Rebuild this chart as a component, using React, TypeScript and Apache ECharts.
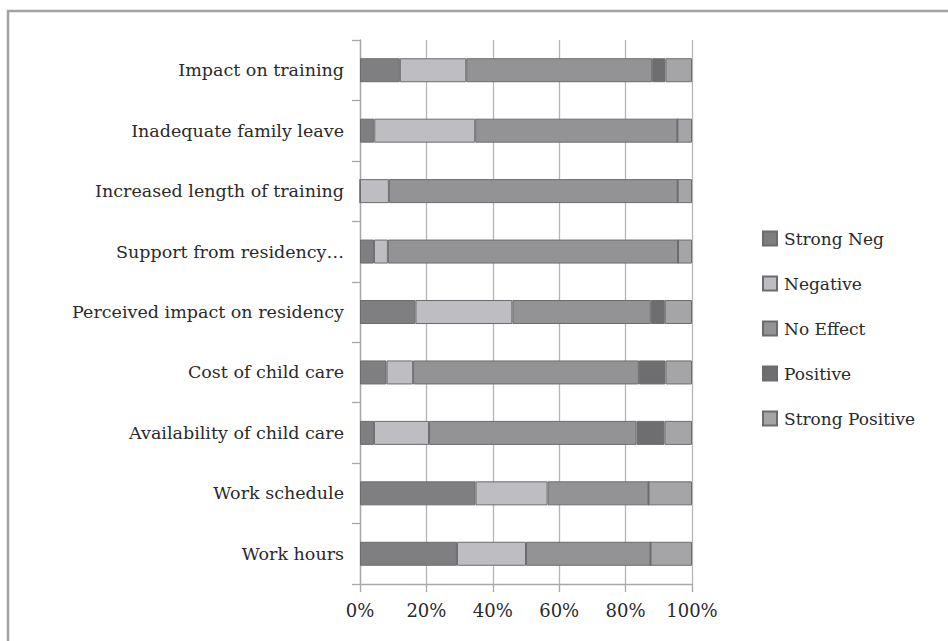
import React, { useEffect, useRef } from "react";
import * as echarts from "echarts";

const categories = [
  "Work hours",
  "Work schedule",
  "Availability of child care",
  "Cost of child care",
  "Perceived impact on residency",
  "Support from residency…",
  "Increased length of training",
  "Inadequate family leave",
  "Impact on training",
];

const strongNeg = [29.2, 34.8, 4.2, 8, 16.7, 4.2, 0, 4.3, 12];
const negative = [20.8, 21.7, 16.6, 8, 29.2, 4.2, 8.7, 30.4, 20];
const noEffect = [37.5, 30.4, 62.5, 68, 41.7, 87.4, 87, 60.9, 56];
const positive = [0, 0, 8.4, 8, 4.2, 0, 0, 0, 4];
const strongPos = [12.5, 13.1, 8.3, 8, 8.2, 4.2, 4.3, 4.4, 8];

const seriesNames = ["Strong Neg", "Negative", "No Effect", "Positive", "Strong Positive"];
const seriesColors = ["#7f7f82", "#bebec2", "#939396", "#6e6e71", "#a5a5a8"];
const xTicks = [0, 20, 40, 60, 80, 100];

const FONT = "DejaVu Serif";

export default function App() {
  const ref = useRef<HTMLDivElement>(null);
  useEffect(() => {
    if (!ref.current) return;
    const chart = echarts.init(ref.current, null, { renderer: "svg" });
    const dataSets = [strongNeg, negative, noEffect, positive, strongPos];
    chart.setOption({
      animation: false,
      backgroundColor: "#ffffff",
      graphic: [
        {
          type: "rect",
          shape: { x: 8, y: 11, width: 1000, height: 700 },
          style: { fill: "none", stroke: "#a3a3a3", lineWidth: 2.5 },
          silent: true,
        },
      ],
      legend: {
        orient: "vertical",
        left: 757,
        top: 225,
        itemWidth: 14,
        itemHeight: 14,
        itemGap: 28,
        icon: "rect",
        data: seriesNames,
        textStyle: { fontFamily: FONT, fontSize: 17, color: "#2a2a2a", padding: [0, 0, 0, 2] },
      },
      grid: { left: 360, right: 256, top: 40, bottom: 57, containLabel: false },
      xAxis: {
        type: "value",
        min: xTicks[0],
        max: xTicks[xTicks.length - 1],
        interval: 20,
        axisLine: { show: true, lineStyle: { color: "#a8a8a8", width: 1.3 } },
        axisTick: { show: true, length: 8, lineStyle: { color: "#a8a8a8", width: 1.3 } },
        splitLine: { show: true, lineStyle: { color: "#b5b5b5", width: 1.3 } },
        axisLabel: {
          formatter: "{value}%",
          fontFamily: FONT,
          fontSize: 18,
          color: "#2a2a2a",
          margin: 17,
        },
      },
      yAxis: {
        type: "category",
        data: categories,
        axisLine: { show: true, lineStyle: { color: "#a8a8a8", width: 1.3 } },
        axisTick: { show: true, length: 8, alignWithLabel: false, lineStyle: { color: "#a8a8a8", width: 1.3 } },
        axisLabel: { fontFamily: FONT, fontSize: 17.5, color: "#2a2a2a", margin: 16 },
      },
      series: seriesNames.map((name, i) => ({
        name,
        type: "bar",
        stack: "total",
        data: dataSets[i],
        barWidth: 24,
        itemStyle: { color: seriesColors[i], borderColor: "#6c6c6e", borderWidth: 1 },
      })),
    });
    return () => chart.dispose();
  }, []);
  return (
    <div
      ref={ref}
      style={{ position: "absolute", left: 0, top: 0, width: 948, height: 641 }}
    />
  );
}
